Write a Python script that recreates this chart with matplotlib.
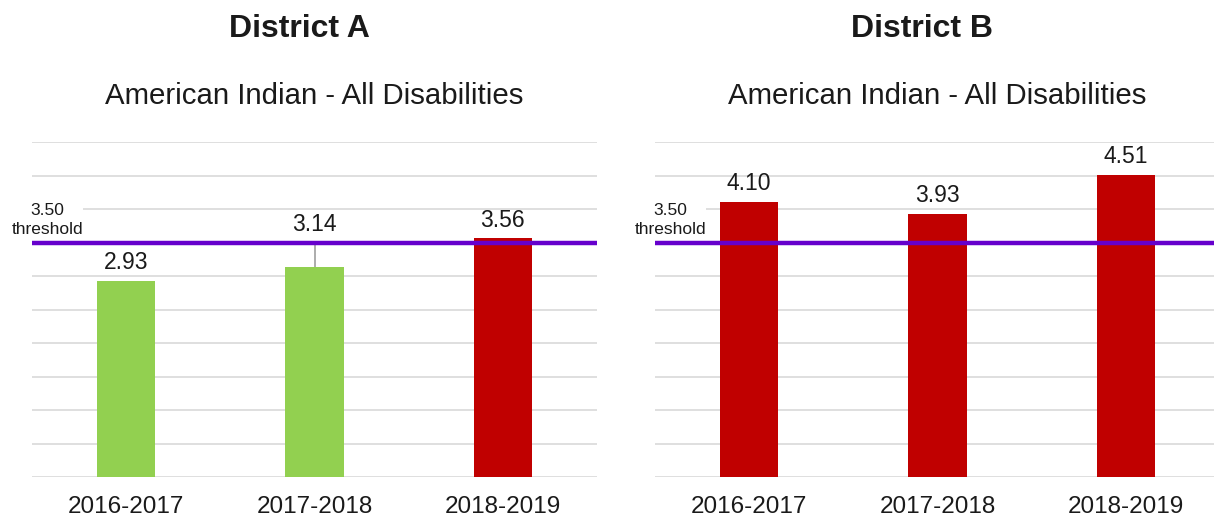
import matplotlib.pyplot as plt

plt.rcParams['font.family'] = ['Liberation Sans', 'DejaVu Sans']

years = ['2016-2017', '2017-2018', '2018-2019']
district_a = [2.93, 3.14, 3.56]
district_b = [4.10, 3.93, 4.51]
threshold = 3.50
districts = ['District A', 'District B']
subtitle = 'American Indian - All Disabilities'

green = '#92D050'
red = '#C00000'
purple = '#6600CC'

fig = plt.figure(figsize=(12.14, 5.18), dpi=100)
W, H = 1214, 518

panels = [(32, district_a, 299), (655, district_b, 922)]

for (left, values, title_x), name in zip(panels, districts):
    ax = fig.add_axes([left / W, (H - 477) / H, 565 / W, 335 / H])
    x = range(len(years))
    colors = [red if v > threshold else green for v in values]
    ax.bar(x, values, width=0.31, color=colors, zorder=2)
    ax.set_xlim(-0.5, 2.5)
    ax.set_ylim(0, 5)
    ax.set_yticks([i * 0.5 for i in range(11)])
    ax.yaxis.grid(True, color='#D9D9D9', lw=1.2, zorder=0)
    ax.set_axisbelow(True)
    for s in ax.spines.values():
        s.set_visible(False)
    ax.tick_params(left=False, bottom=False, labelleft=False)
    ax.set_xticks(list(x))
    ax.set_xticklabels(years, fontsize=17.5, color='#1a1a1a')
    ax.tick_params(axis='x', pad=10)

    ax.axhline(threshold, color=purple, lw=3.2, zorder=3)
    ax.annotate(f'{threshold:.2f}\nthreshold', xy=(0.027, threshold),
                xycoords=('axes fraction', 'data'), xytext=(0, 4),
                textcoords='offset points', ha='center', va='bottom',
                fontsize=12.5, linespacing=1.35, color='#1a1a1a',
                bbox=dict(facecolor='white', edgecolor='none', pad=0),
                zorder=4)

    for i, v in enumerate(values):
        y = v
        if v < threshold and threshold - v < 0.4:
            ax.plot([i, i], [v, threshold], color='#A6A6A6', lw=1.3, zorder=1)
            y = threshold
        ax.annotate(f'{v:.2f}', xy=(i, y), xytext=(0, 5),
                    textcoords='offset points', ha='center', va='bottom',
                    fontsize=16.5, color='#1a1a1a', zorder=5)

    fig.text(title_x / W, 1 - 29 / H, name, ha='center', va='center',
             fontsize=23, fontweight='bold', color='#1a1a1a')
    fig.text((left + 282) / W, 1 - 96 / H, subtitle, ha='center', va='center',
             fontsize=21.2, color='#1a1a1a')

fig.savefig('out.png', dpi=100)
